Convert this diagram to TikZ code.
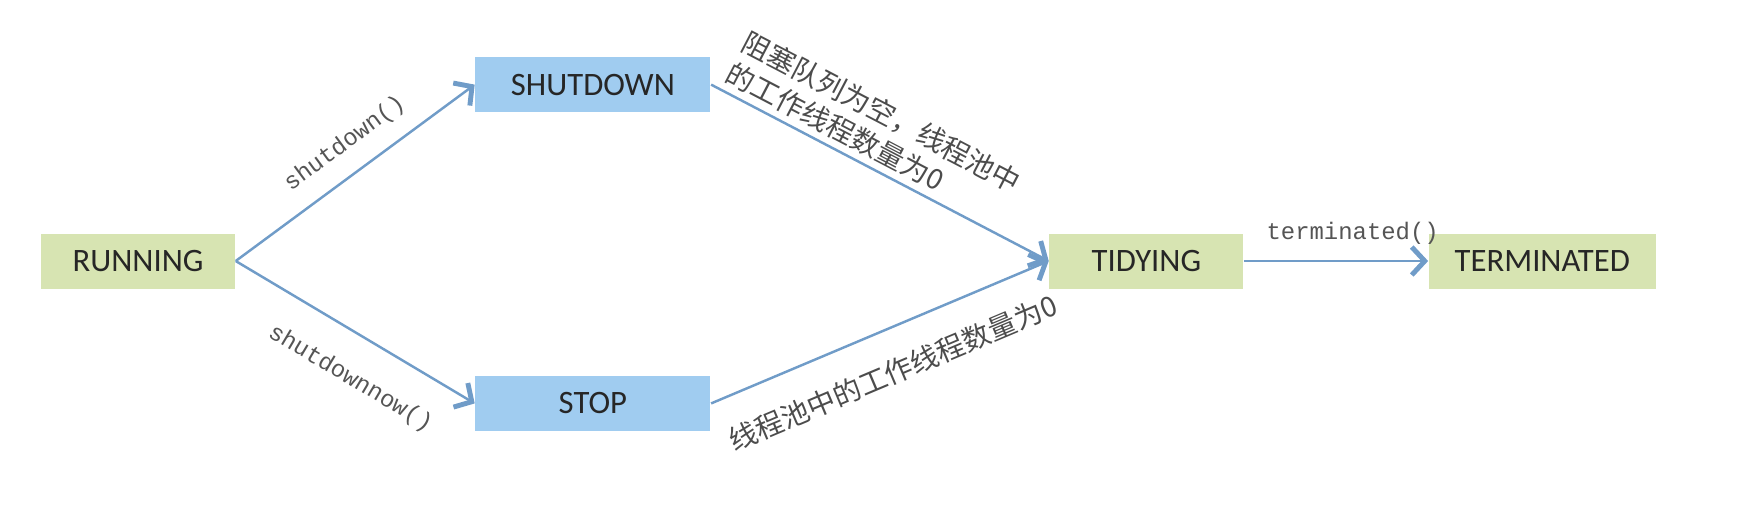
\documentclass[tikz,border=0pt]{standalone}
\usepackage{fontspec}
\setmainfont{Carlito}
\newfontfamily\codefont{Liberation Mono}
\newfontfamily\cjk{Noto Sans CJK SC}
\usepackage{xcolor}
\usepackage{tikz}
\usetikzlibrary{
    positioning,
    arrows.meta
}
\definecolor{stategreen}{RGB}{215,228,178}
\definecolor{stateblue}{RGB}{160,204,240}
\definecolor{flowblue}{RGB}{112,156,200}
\definecolor{notegray}{RGB}{85,85,85}
\tikzset{
  basic/.style = {
      rectangle,
      minimum height=0.55cm,
      inner sep=0pt,
      font=\fontsize{9.3}{11}\selectfont,
      text=black!85,
      align=center
  },
  green state/.style = {
      basic,
      fill=stategreen,
      minimum width=1.94cm
  },
  blue state/.style = {
      basic,
      fill=stateblue,
      minimum width=2.35cm
  },
  flow/.style = {
      draw=flowblue,
      line width=0.7pt,
      -{Straight Barb[length=1.3mm,width=2.8mm,line width=1.4pt]}
  },
  code/.style = {
      font=\codefont\fontsize{6.8}{8}\selectfont,
      text=notegray,
      inner sep=0pt,
      sloped
  },
  note/.style = {
      font=\cjk\fontsize{8}{9.8}\selectfont,
      text=black!70,
      inner sep=0pt,
      sloped,
      align=left
  }
}

\begin{document}
\begin{tikzpicture}
    \useasboundingbox (0,0) rectangle (17.37,-5.21);
    % Nodes
    \node[green state] (running) at (1.38,-2.61) {RUNNING};
    \node[blue state, above right=1.2cm and 2.39cm of running] (shutdown) {SHUTDOWN};
    \node[blue state, below right=0.86cm and 2.39cm of running] (stop) {STOP};
    \node[green state, right=8.13cm of running] (tidying) {TIDYING};
    \node[green state, minimum width=2.27cm, right=1.84cm of tidying] (terminated) {TERMINATED};
    % Edges
    \path
    (running.east) edge[flow] node[code, pos=0.53, above=0.17cm] {shutdown()} (shutdown.west)
    (running.east) edge[flow] node[code, pos=0.57, below=0.3cm] {shutdownnow()} (stop.west)
    (shutdown.east) edge[flow] node[note, pos=0.43, above=0.06cm] {阻塞队列为空，线程池中\\的工作线程数量为0} (tidying.west)
    (stop.east) edge[flow] node[note, pos=0.49, below=0.28cm] {线程池中的工作线程数量为0} (tidying.west)
    (tidying.east) edge[flow] node[code, pos=0.59, above=0.15cm] {terminated()} (terminated.west);
\end{tikzpicture}
\end{document}
